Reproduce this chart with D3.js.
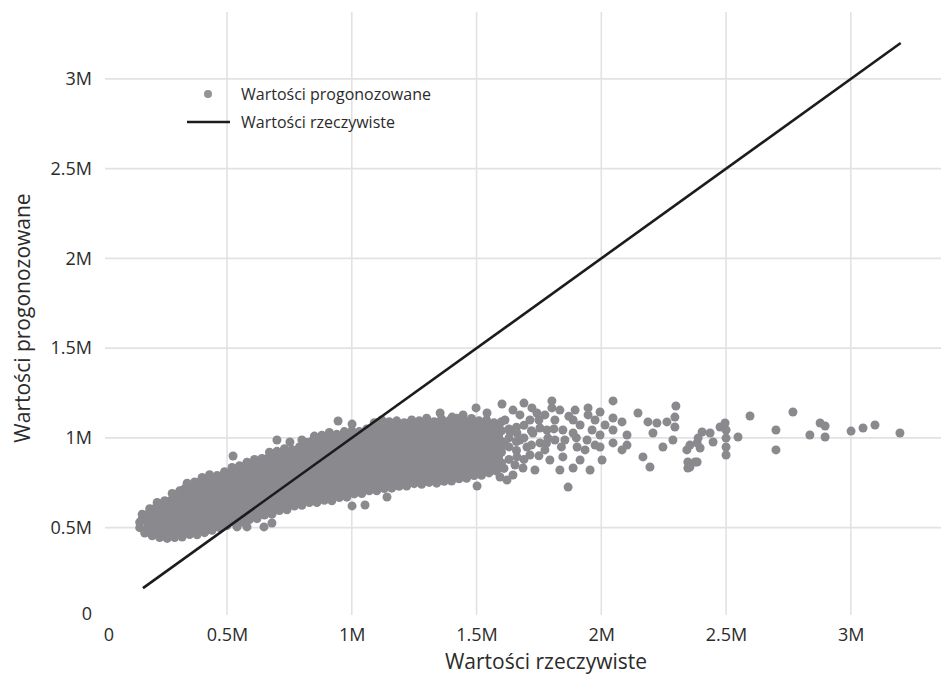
<!DOCTYPE html>
<html>
<head>
<meta charset="utf-8">
<script src="https://d3js.org/d3.v7.min.js"></script>
<style>
  body { margin: 0; background: #fff; }
  text { font-family: "Open Sans", sans-serif; fill: #2b2b2b; }
  .tick text { font-size: 18px; }
  .grid line { stroke: #e2e2e2; stroke-width: 1.6px; }
</style>
</head>
<body>
<script>
// values in millions
var xTicks = [0, 0.5, 1, 1.5, 2, 2.5, 3];
var yTicks = [0, 0.5, 1, 1.5, 2, 2.5, 3];
var tickLabels = ["0", "0.5M", "1M", "1.5M", "2M", "2.5M", "3M"];

// dense core of the cloud (where points overlap completely):
// upper edge left->right, lower edge right->left
var coreUpper = [[0.165,0.570],[0.191,0.612],[0.271,0.668],[0.331,0.740],[0.420,0.785],[0.500,0.813],
  [0.552,0.852],[0.632,0.880],[0.684,0.924],[0.792,0.947],[0.844,1.008],[0.925,1.025],[1.061,1.047],
  [1.101,1.103],[1.193,1.086],[1.245,1.103],[1.354,1.103],[1.474,1.103],[1.600,1.086]];
var coreLower = [[1.600,0.840],[1.554,0.802],[1.462,0.779],[1.354,0.751],[1.273,0.746],[1.193,0.729],
  [1.061,0.701],[0.925,0.657],[0.792,0.629],[0.684,0.579],[0.564,0.534],[0.500,0.517],[0.392,0.467],
  [0.259,0.439],[0.175,0.480]];

// points on the upper rim of the cloud [actual, forecast]
var rimUpper = [[0.16,0.575],[0.19,0.605],[0.22,0.640],[0.25,0.650],[0.28,0.690],[0.31,0.705],[0.34,0.748],
  [0.37,0.755],[0.40,0.780],[0.43,0.795],[0.46,0.790],[0.49,0.812],[0.52,0.835],[0.55,0.845],[0.58,0.865],
  [0.61,0.880],[0.64,0.885],[0.67,0.920],[0.70,0.925],[0.73,0.940],[0.76,0.935],[0.79,0.950],[0.82,0.975],
  [0.85,1.010],[0.88,1.015],[0.91,1.030],[0.94,1.020],[0.97,1.035],[1.00,1.040],[1.03,1.035],[1.06,1.050],
  [1.09,1.085],[1.12,1.100],[1.15,1.090],[1.18,1.095],[1.21,1.085],[1.24,1.100],[1.27,1.095],[1.30,1.110],
  [1.33,1.090],[1.36,1.105],[1.39,1.095],[1.42,1.110],[1.45,1.100],[1.48,1.108],[1.51,1.095],[1.54,1.100],
  [1.57,1.085],[1.60,1.090],[1.63,1.050]];

// points on the lower rim of the cloud
var rimLower = [[0.15,0.500],[0.15,0.530],[0.16,0.550],[0.17,0.470],[0.20,0.455],[0.23,0.445],[0.26,0.440],
  [0.29,0.445],[0.32,0.448],[0.35,0.462],[0.38,0.460],[0.41,0.472],[0.44,0.485],[0.47,0.500],[0.50,0.512],
  [0.53,0.528],[0.56,0.530],[0.59,0.545],[0.62,0.550],[0.65,0.570],[0.68,0.575],[0.71,0.595],[0.74,0.600],
  [0.77,0.620],[0.80,0.625],[0.83,0.640],[0.86,0.640],[0.89,0.652],[0.92,0.650],[0.95,0.668],[0.98,0.670],
  [1.01,0.688],[1.04,0.690],[1.07,0.705],[1.10,0.705],[1.13,0.718],[1.16,0.720],[1.19,0.730],[1.22,0.732],
  [1.25,0.745],[1.28,0.742],[1.31,0.752],[1.34,0.748],[1.37,0.758],[1.40,0.760],[1.43,0.772],[1.46,0.775],
  [1.49,0.790],[1.52,0.792],[1.55,0.805],[1.58,0.815],[1.61,0.830]];

// scattered points outside the core
var points = [
  [0.524,0.899],[0.700,0.988],[0.752,0.977],[0.800,0.988],[0.945,1.094],[1.001,1.077],
  [0.540,0.504],[0.580,0.504],[0.648,0.504],[0.680,0.526],[1.001,0.621],[1.053,0.626],[1.141,0.671],
  [1.60,0.86],[1.60,0.92],[1.60,0.98],[1.60,1.04],[1.63,0.88],[1.63,0.95],[1.63,1.00],[1.66,0.93],
  [1.66,0.98],[1.66,1.06],[1.69,0.88],[1.69,1.00],[1.69,1.07],[1.72,0.96],[1.72,1.04],[1.75,0.90],
  [1.75,1.10],[1.78,0.97],[1.81,1.05],[1.84,0.95],[1.87,1.12],[1.90,1.00],
  [1.354,1.139],[1.402,1.116],[1.446,1.128],[1.498,1.167],[1.542,1.139],[1.602,1.189],[1.646,1.155],
  [1.690,1.194],[1.742,1.139],[1.802,1.206],[1.802,1.167],[1.834,1.155],[1.887,1.100],[1.947,1.167],
  [1.947,1.128],[1.995,1.144],[2.047,1.206],[2.047,1.111],[2.083,1.089],[2.147,1.139],[2.187,1.089],
  [2.223,1.083],[2.263,1.089],[2.299,1.178],[2.295,1.116],[2.295,1.061],
  [1.782,1.044],[1.846,1.044],[1.887,1.027],[1.963,1.044],[1.995,1.016],[2.047,1.044],[2.103,1.016],
  [2.103,0.960],[2.207,1.027],[2.247,0.949],[2.287,0.988],[2.343,0.933],[2.384,0.972],[2.355,0.838],
  [2.384,0.866],[1.754,0.972],[1.794,0.877],[1.846,0.894],[1.903,0.949],[1.943,0.988],[1.995,0.949],
  [2.003,0.877],[2.047,0.972],[2.083,0.933],[2.167,0.894],[2.195,0.838],[1.887,0.832],[1.867,0.726],
  [1.686,0.832],[1.662,0.894],[1.646,0.793],[1.594,0.782],[1.622,0.765],[1.502,0.732],[1.702,0.949],
  [1.726,1.027],[1.662,1.027],[1.594,1.044],[1.542,1.005],[1.566,0.916],[1.526,0.860],
  [1.614,1.100],[1.634,1.033],[1.674,0.988],[1.714,1.100],[1.754,1.055],[1.774,1.128],[1.814,1.100],
  [1.854,0.988],[1.895,1.155],[1.915,1.072],[1.935,0.933],[1.975,1.100],[1.614,0.960],[1.654,0.849],
  [1.714,0.905],[1.774,0.933],[1.814,0.988],[1.834,0.821],[1.734,0.821],[1.975,0.960],[2.015,1.072],
  [1.915,0.877],[1.955,0.821],[1.674,1.128],[1.722,1.167],[1.786,0.999],
  [2.355,0.960],[2.347,0.866],[2.347,0.832],[2.376,0.866],[2.396,0.944],[2.388,0.999],[2.404,1.033],
  [2.436,1.027],[2.448,0.977],[2.476,1.061],[2.496,1.083],[2.500,1.044],[2.500,0.999],[2.500,0.949],
  [2.500,0.905],[2.548,1.005],[2.596,1.122],[2.700,1.044],[2.700,0.933],[2.768,1.144],[2.836,1.016],
  [2.877,1.083],[2.897,1.066],[2.897,1.005],[3.001,1.038],[3.049,1.055],[3.097,1.072],[3.197,1.027]
];

// reference line y = x
var actualLine = [[0.163,0.163],[3.2,3.2]];

var seriesNames = ["Wartości progonozowane", "Wartości rzeczywiste"];

var width = 941, height = 674;
var pointColor = "#8a8a8e";

var svg = d3.select("body").append("svg")
  .attr("width", width)
  .attr("height", height);

var x = d3.scaleLinear().domain([0, 3.2]).range([102.3, 102.3 + 3.2 * 249.5]);
var y = d3.scaleLinear().domain([0, 3.2]).range([617.4, 617.4 - 3.2 * 179.5]);

// grid
var grid = svg.append("g").attr("class", "grid");
grid.selectAll(".vg").data(xTicks.slice(1)).enter().append("line")
  .attr("x1", function(d) { return x(d); }).attr("x2", function(d) { return x(d); })
  .attr("y1", 12).attr("y2", 615);
grid.selectAll(".hg").data(yTicks.slice(1)).enter().append("line")
  .attr("x1", 105).attr("x2", width)
  .attr("y1", function(d) { return y(d); }).attr("y2", function(d) { return y(d); });

// axes (labels only)
var xAxis = d3.axisBottom(x).tickValues(xTicks).tickSize(0).tickPadding(0)
  .tickFormat(function(d, i) { return tickLabels[i]; });
var gx = svg.append("g").attr("transform", "translate(0,628)").call(xAxis);
gx.select(".domain").remove();
gx.selectAll(".tick text").attr("dy", "0.71em").attr("fill", "#2b2b2b");
gx.select(".tick text").attr("dx", 6);

var yAxis = d3.axisLeft(y).tickValues(yTicks).tickSize(0).tickPadding(0)
  .tickFormat(function(d, i) { return tickLabels[i]; });
var gy = svg.append("g").attr("transform", "translate(92,0)").call(yAxis);
gy.select(".domain").remove();
gy.selectAll(".tick text").attr("fill", "#2b2b2b");
gy.selectAll(".tick").filter(function(d) { return d === 0; }).select("text").attr("dy", "0.1em");

var line = d3.line().x(function(d) { return x(d[0]); }).y(function(d) { return y(d[1]); });

// dense core
svg.append("path")
  .datum(coreUpper.concat(coreLower))
  .attr("d", line.curve(d3.curveLinearClosed))
  .attr("fill", pointColor)
  .attr("stroke", pointColor)
  .attr("stroke-width", 3)
  .attr("stroke-linejoin", "round");
line.curve(d3.curveLinear);

svg.selectAll(".pt").data(rimUpper.concat(rimLower, points)).enter().append("circle")
  .attr("class", "pt")
  .attr("cx", function(d) { return x(d[0]); })
  .attr("cy", function(d) { return y(d[1]); })
  .attr("r", 4.5)
  .attr("fill", pointColor);

// y = x line
svg.append("path")
  .datum(actualLine)
  .attr("d", line)
  .attr("stroke", "#1c1c1c")
  .attr("stroke-width", 2.6)
  .attr("fill", "none");

// legend
var lg = svg.append("g");
lg.append("circle").attr("cx", 208).attr("cy", 94).attr("r", 4).attr("fill", "#939396");
lg.append("line").attr("x1", 187).attr("x2", 230).attr("y1", 122).attr("y2", 122)
  .attr("stroke", "#1c1c1c").attr("stroke-width", 2.6);
lg.selectAll(".lt").data(seriesNames).enter().append("text")
  .attr("x", 241)
  .attr("y", function(d, i) { return 94 + i * 28; })
  .attr("dy", "0.35em")
  .style("font-size", "16px")
  .text(function(d) { return d; });

// axis titles
svg.append("text")
  .attr("x", 546).attr("y", 669)
  .attr("text-anchor", "middle")
  .style("font-size", "21px")
  .text("Wartości rzeczywiste");

svg.append("text")
  .attr("transform", "translate(30,318) rotate(-90)")
  .attr("text-anchor", "middle")
  .style("font-size", "21px")
  .text("Wartości progonozowane");
</script>
</body>
</html>
